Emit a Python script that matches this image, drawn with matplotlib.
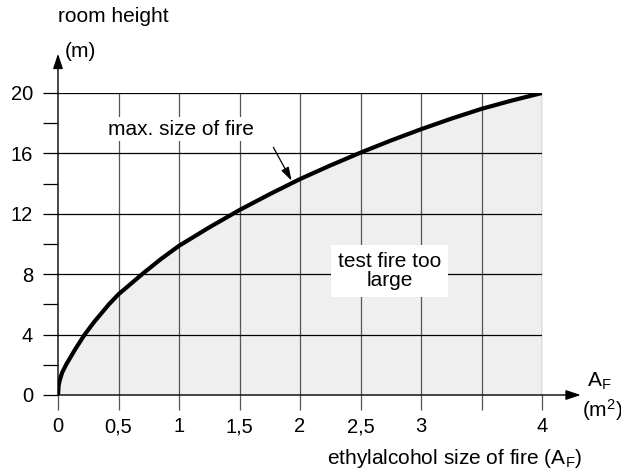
import matplotlib
matplotlib.use("Agg")
import matplotlib.pyplot as plt

plt.rcParams['font.family'] = ['Liberation Sans', 'DejaVu Sans']
plt.rcParams['mathtext.fontset'] = 'custom'
plt.rcParams['mathtext.rm'] = 'Liberation Sans'
plt.rcParams['mathtext.it'] = 'Liberation Sans'

# values
area = [0, 0.005, 0.015, 0.035, 0.07, 0.14, 0.22, 0.3, 0.42, 0.5, 0.6, 0.71, 0.85,
        1.0, 1.25, 1.5, 1.75, 2.0, 2.25, 2.5, 2.75, 3.0, 3.25, 3.5, 3.75, 4.0]
height = [0, 0.6, 1.0, 1.5, 2.05, 3.0, 4.0, 4.85, 6.0, 6.67, 7.35, 8.1, 9.0,
          9.88, 11.1, 12.25, 13.3, 14.3, 15.2, 16.05, 16.85, 17.6, 18.3, 18.95, 19.5, 20.0]

x_ticks = [0, 0.5, 1, 1.5, 2, 2.5, 3, 3.5, 4]
x_labels = ['0', '0,5', '1', '1,5', '2', '2,5', '3', '', '4']
y_ticks = [0, 4, 8, 12, 16, 20]
y_minor = [2, 6, 10, 14, 18]

fig = plt.figure(figsize=(6.21, 4.70), dpi=100)
ax = fig.add_axes([58 / 621, 75 / 470, 484 / 621, 302 / 470])
ax.set_xlim(0, 4)
ax.set_ylim(0, 20)
for s in ax.spines.values():
    s.set_visible(False)

# shaded region under the curve
ax.fill_between(area, height, 0, color='#efefef', zorder=0)

# grid
for xv in x_ticks[1:]:
    ax.plot([xv, xv], [0, 20], color='#555555', lw=0.9, zorder=1)
for yv in y_ticks[1:]:
    ax.plot([0, 4], [yv, yv], color='black', lw=0.9, zorder=1)

ax.plot(area, height, color='black', lw=3, solid_capstyle='round',
        solid_joinstyle='round', zorder=3)

# axes with arrows
ax.annotate('', xy=(4.32, 0), xytext=(0, 0), annotation_clip=False,
            arrowprops=dict(arrowstyle='-|>,head_length=0.9,head_width=0.3',
                            color='black', lw=1.0, shrinkA=0, shrinkB=0))
ax.annotate('', xy=(0, 22.6), xytext=(0, 0), annotation_clip=False,
            arrowprops=dict(arrowstyle='-|>,head_length=0.9,head_width=0.3',
                            color='black', lw=1.0, shrinkA=0, shrinkB=0))

ax.set_xticks(x_ticks)
ax.set_xticklabels(x_labels)
ax.set_yticks(y_ticks)
ax.set_yticks(y_minor, minor=True)
ax.tick_params(axis='x', direction='out', length=11, width=0.9, color='#555555',
               labelsize=14.5, pad=5)
ax.tick_params(axis='y', which='both', direction='out', length=11, width=0.9,
               labelsize=14.5, pad=7)

ax.text(1.02, 17.6, 'max. size of fire', ha='center', va='center', fontsize=15,
        bbox=dict(facecolor='white', edgecolor='none', pad=2), zorder=4)
ax.annotate('', xy=(1.93, 14.2), xytext=(1.78, 16.4),
            arrowprops=dict(arrowstyle='-|>,head_length=0.8,head_width=0.25',
                            color='black', lw=0.9, shrinkA=0, shrinkB=0), zorder=4)
ax.text(2.74, 8.2, 'test fire too\nlarge', ha='center', va='center', fontsize=15,
        linespacing=1.0, bbox=dict(facecolor='white', edgecolor='none', pad=5), zorder=4)

fig.text(58 / 621, 1 - 17 / 470, 'room height', ha='left', va='center', fontsize=15)
fig.text(65 / 621, 1 - 52 / 470, '(m)', ha='left', va='center', fontsize=15)
fig.text(599 / 621, 1 - 381 / 470, r'A$_\mathrm{F}$', ha='center', va='center', fontsize=15)
fig.text(602 / 621, 1 - 410 / 470, r'(m$^2$)', ha='center', va='center', fontsize=15)
fig.text(455 / 621, 1 - 458 / 470, r'ethylalcohol size of fire (A$_\mathrm{F}$)',
         ha='center', va='center', fontsize=15)

fig.savefig('out.png', dpi=100)
